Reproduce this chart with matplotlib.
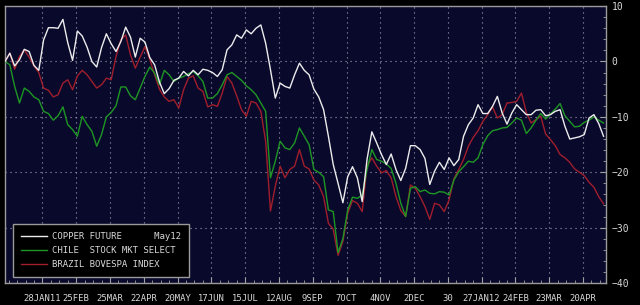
import matplotlib
matplotlib.use("Agg")
import matplotlib.pyplot as plt
import numpy as np
import pandas as pd

# sampled every 4 days from 28 Dec 2010, % change
start_date = "2010-12-28"
copper = [0.0, 1.5, -0.8, 0.3, 2.2, 1.8, -0.7, -1.6, 3.9, 6.1,
          6.1, 6.0, 7.6, 3.4, 0.2, 5.5, 4.6, 2.6, 0.0, -1.0,
          2.5, 5.0, 3.2, 1.8, 3.6, 6.2, 4.4, 0.8, 4.2, 3.5,
          0.7, -0.6, -3.7, -5.8, -4.9, -3.4, -3.0, -1.8, -2.6, -1.6,
          -2.4, -1.4, -1.6, -2.0, -2.7, -1.5, 2.1, 3.0, 4.8, 4.2,
          5.7, 5.0, 6.0, 6.6, 3.3, -1.5, -6.6, -3.9, -4.5, -4.8,
          -2.4, -0.3, -1.6, -2.4, -5.0, -6.4, -8.7, -13.5, -18.6, -22.0,
          -25.5, -20.8, -19.0, -21.0, -25.3, -17.7, -12.7, -14.7, -16.8, -18.6,
          -16.7, -19.5, -21.5, -19.3, -15.2, -15.2, -15.9, -17.5, -22.2, -19.8,
          -18.2, -19.5, -17.4, -18.8, -17.7, -13.5, -11.4, -10.2, -7.8, -9.4,
          -9.4, -8.1, -6.3, -9.3, -11.3, -9.3, -7.8, -8.7, -9.6, -9.6,
          -8.8, -8.7, -9.8, -9.6, -9.0, -8.7, -11.7, -14.0, -13.8, -13.6,
          -13.2, -10.2, -9.6, -11.2, -13.5]
chile = [0.0, -0.6, -4.5, -7.5, -4.8, -5.4, -6.4, -6.9, -9.0, -9.4,
         -10.6, -9.8, -8.2, -11.4, -12.3, -13.5, -9.9, -11.4, -12.6, -15.3,
         -13.2, -10.0, -9.2, -8.0, -4.6, -4.6, -6.2, -6.9, -4.8, -2.7,
         -1.0, -2.1, -4.2, -1.6, -2.4, -3.6, -3.0, -2.7, -2.2, -1.8,
         -2.6, -3.6, -6.6, -6.6, -5.8, -4.2, -2.4, -2.0, -2.7, -3.4,
         -4.4, -5.1, -6.0, -7.5, -9.0, -21.0, -18.0, -14.4, -15.6, -15.9,
         -14.7, -12.0, -13.5, -15.0, -19.5, -20.0, -20.8, -26.8, -27.1, -34.5,
         -32.0, -26.8, -24.5, -24.7, -24.1, -19.5, -15.9, -17.7, -18.0, -18.5,
         -19.3, -22.0, -25.6, -28.0, -22.9, -22.6, -23.5, -23.2, -23.8, -23.9,
         -23.5, -23.6, -24.1, -21.4, -19.9, -19.0, -18.0, -18.2, -17.4, -15.0,
         -13.4, -12.5, -12.3, -12.0, -11.9, -11.1, -10.2, -10.6, -13.0, -12.0,
         -10.6, -9.4, -10.4, -9.5, -8.6, -7.6, -9.8, -10.8, -11.8, -11.7,
         -11.0, -10.6, -10.0, -10.6, -11.1]
brazil = [0.0, 1.5, -1.4, 0.9, 2.1, 0.8, -0.8, -2.0, -4.8, -5.2,
          -6.4, -6.0, -3.9, -3.3, -5.1, -2.6, -1.6, -2.4, -3.6, -4.8,
          -4.2, -3.0, -3.3, 0.9, 3.9, 4.8, 1.2, -1.2, 0.8, 2.7,
          0.4, -2.4, -5.0, -6.4, -7.2, -6.9, -8.4, -5.1, -3.0, -2.6,
          -4.8, -5.4, -8.2, -7.8, -8.1, -5.7, -2.7, -3.9, -6.2, -8.7,
          -9.9, -7.2, -7.5, -9.0, -14.4, -27.0, -22.5, -18.9, -21.0, -19.5,
          -18.9, -15.9, -18.9, -19.4, -21.4, -22.3, -24.4, -29.2, -30.3, -35.0,
          -32.5, -27.4, -25.1, -25.6, -27.1, -18.9, -17.4, -18.9, -20.1, -19.7,
          -21.0, -24.4, -26.9, -28.0, -22.3, -22.9, -24.4, -26.2, -28.5, -25.6,
          -25.9, -27.1, -25.0, -21.2, -19.5, -17.7, -15.3, -13.7, -12.5, -10.8,
          -9.6, -8.2, -10.2, -9.6, -7.5, -7.4, -7.2, -5.7, -9.2, -11.1,
          -10.5, -9.9, -13.1, -14.1, -15.2, -16.8, -17.4, -18.2, -19.4, -20.0,
          -20.6, -21.8, -22.7, -24.4, -25.7]

tick_labels = ["28JAN11", "25FEB", "25MAR", "22APR", "20MAY", "17JUN", "15JUL",
               "12AUG", "9SEP", "7OCT", "4NOV", "2DEC", "30", "27JAN12",
               "24FEB", "23MAR", "20APR"]
series_names = ["COPPER FUTURE      May12", "CHILE  STOCK MKT SELECT",
                "BRAZIL BOVESPA INDEX"]

dates = pd.date_range(start_date, periods=len(copper), freq="4D")
major = pd.date_range("2011-01-28", periods=len(tick_labels), freq="28D")
minor = pd.date_range("2010-12-31", "2012-05-09", freq="7D")

plt.rcParams["font.family"] = ["DejaVu Sans Mono"]
txt = "#d8d8d8"

fig = plt.figure(figsize=(6.4, 3.05), dpi=100, facecolor="black")
ax = fig.add_axes([0.0078, 0.072, 0.939, 0.908], facecolor="#09092c")

ax.plot(dates, brazil, color="#a01e2b", lw=1.0, label=series_names[2], zorder=3)
ax.plot(dates, chile, color="#1e9624", lw=1.0, label=series_names[1], zorder=4)
ax.plot(dates, copper, color="#ececec", lw=1.0, label=series_names[0], zorder=5)

ax.set_xlim(pd.Timestamp("2010-12-28"), pd.Timestamp("2012-05-09"))
ax.set_ylim(-40, 10)

ax.set_xticks(major)
ax.set_xticklabels(tick_labels)
ax.set_xticks(minor, minor=True)
ax.set_yticks(np.arange(-40, 11, 10))
ax.set_yticks(np.arange(-40, 11, 2), minor=True)
ax.yaxis.tick_right()

ax.tick_params(axis="x", which="major", direction="in", length=4, color="#a0a0a0",
               labelsize=6.4, labelcolor=txt, pad=8)
ax.tick_params(axis="x", which="minor", direction="in", length=2.5, color="#a0a0a0")
ax.tick_params(axis="y", which="major", direction="in", length=4, color="#a0a0a0",
               labelsize=7, labelcolor=txt, pad=4)
ax.tick_params(axis="y", which="minor", direction="in", length=2.5, color="#a0a0a0")

ax.grid(True, which="major", color="#a0a0b4", linestyle=(0, (1, 3.5)), lw=0.8)
for s in ax.spines.values():
    s.set_color("#9a9a9a")
    s.set_linewidth(1.0)

h, l = ax.get_legend_handles_labels()
leg = ax.legend(h[::-1], l[::-1], loc="lower left", bbox_to_anchor=(0.0133, 0.0217),
                borderaxespad=0, frameon=True, fancybox=False, fontsize=6.5,
                handlelength=2.9, handletextpad=0.5, labelspacing=0.55,
                borderpad=0.9, labelcolor=txt)
leg.get_frame().set_facecolor("black")
leg.get_frame().set_edgecolor("#9a9a9a")
leg.get_frame().set_alpha(1.0)
leg.set_zorder(10)

fig.savefig("out.png", dpi=100, facecolor="black")
